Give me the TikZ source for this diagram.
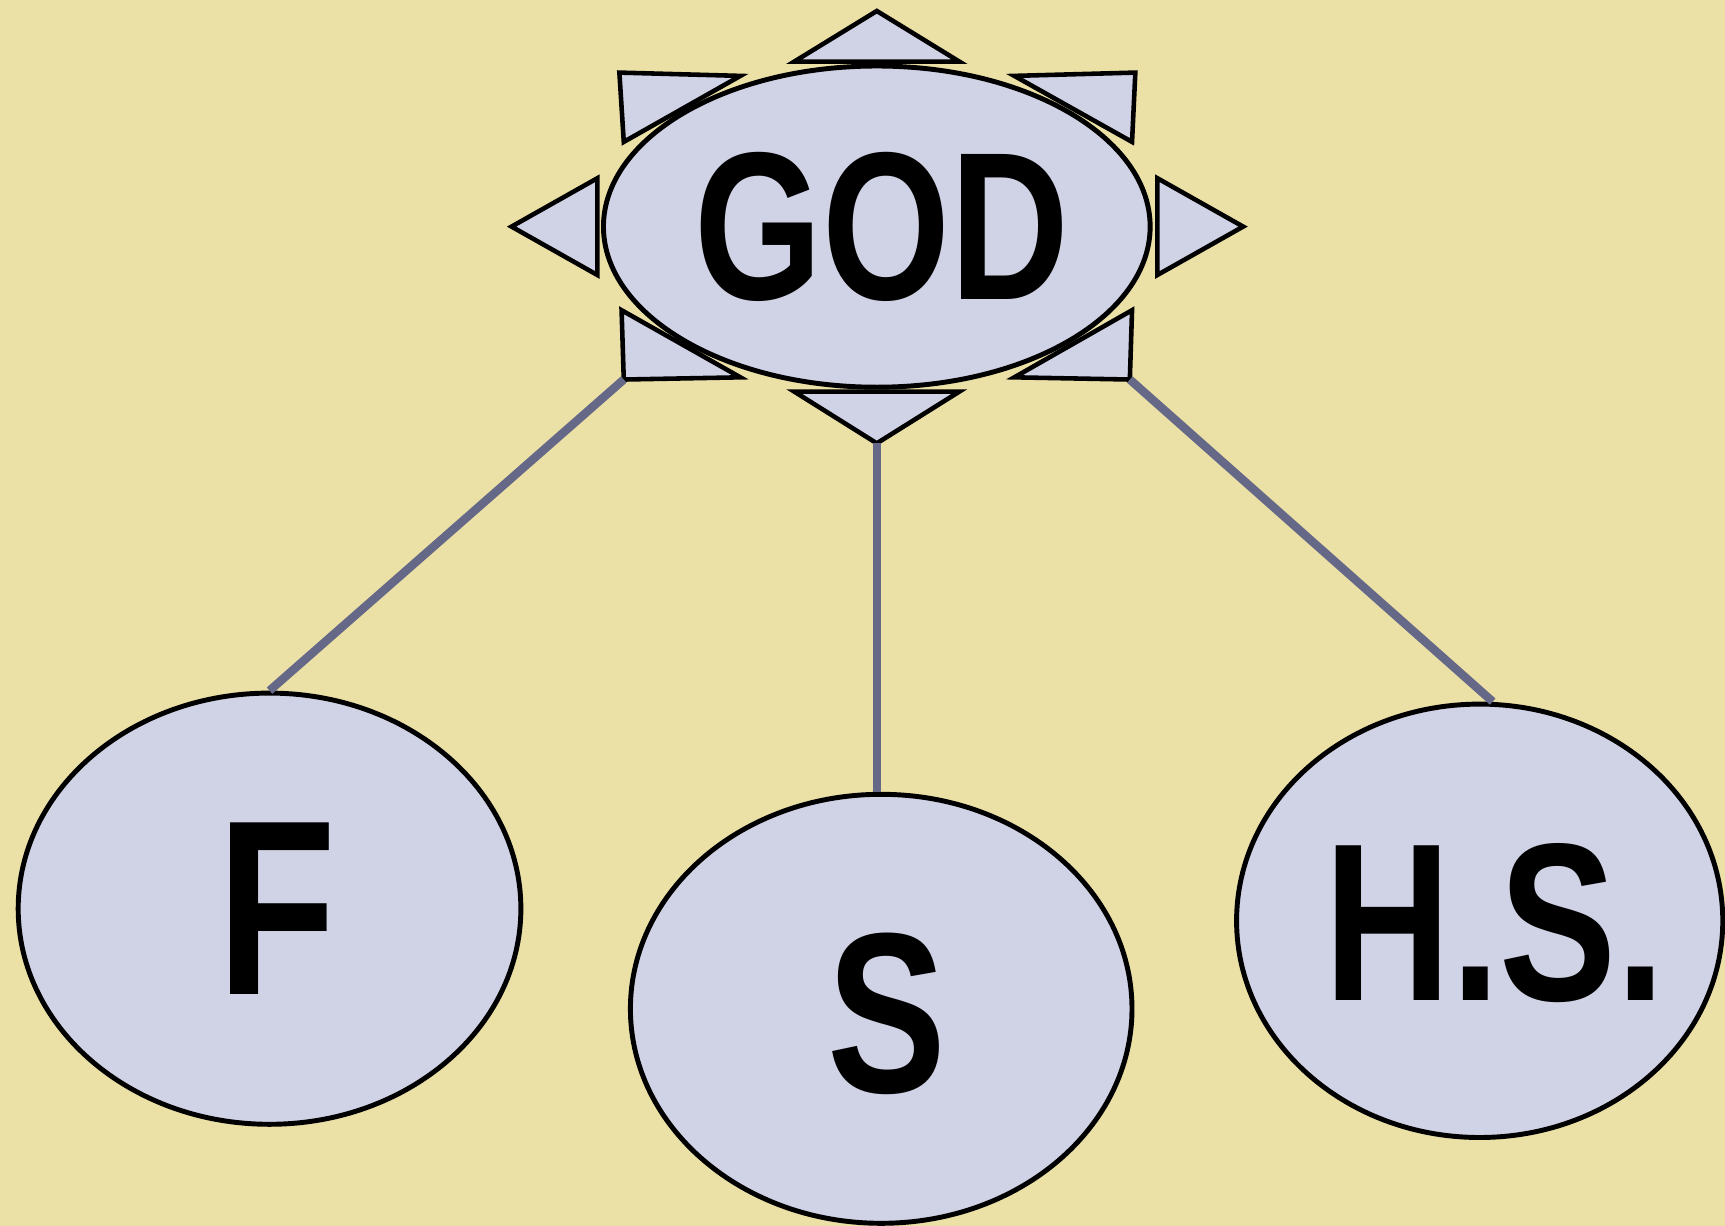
\documentclass[tikz,border=0pt]{standalone}
\usepackage{fontspec}
\newfontfamily\lbl[FakeStretch=0.78]{Liberation Sans}
\usetikzlibrary{shapes.geometric}
\definecolor{bgyellow}{HTML}{EBE1A6}
\definecolor{ovalfill}{HTML}{D0D2E6}
\definecolor{linkcol}{HTML}{666888}
\tikzset{
  oval/.style={ellipse, draw=black, line width=1.4pt, fill=ovalfill, inner sep=0pt},
  ray/.style={draw=black, line width=1.3pt, fill=ovalfill, line join=miter},
  link/.style={draw=linkcol, line width=2.4pt},
  word/.style={inner sep=0pt, font=\lbl\bfseries}
}
\begin{document}
\begin{tikzpicture}[x=0.011cm, y=-0.011cm]
\useasboundingbox (0,0) rectangle (1568,1114.4);
\fill[bgyellow] (0,0) rectangle (1568,1114.4);

% rays around GOD
\coordinate (tA) at (797,10);  \coordinate (tB) at (722,56);  \coordinate (tC) at (872,56);
\coordinate (bA) at (797,403); \coordinate (bB) at (722,356); \coordinate (bC) at (872,356);
\coordinate (lA) at (465,206); \coordinate (lB) at (543,162); \coordinate (lC) at (543,250);
\coordinate (rA) at (1130,206);\coordinate (rB) at (1052,162);\coordinate (rC) at (1052,250);
\coordinate (tlA) at (563,66); \coordinate (tlB) at (673,69); \coordinate (tlC) at (567,129);
\coordinate (trA) at (1032,66);\coordinate (trB) at (922,69); \coordinate (trC) at (1029,129);
\coordinate (blA) at (565,282);\coordinate (blB) at (567,345);\coordinate (blC) at (673,343);
\coordinate (brA) at (1029,282);\coordinate (brB) at (1027,345);\coordinate (brC) at (922,343);

\foreach \t in {t,b,l,r,tl,tr,bl,br}{
  \draw[ray] (\t A) -- (\t B) -- (\t C) -- cycle;
}

% ovals
\node[oval, minimum width=5.467cm, minimum height=3.212cm] (GOD) at (797,206) {};
\node[oval, minimum width=5.027cm, minimum height=4.312cm] (F) at (245,826) {};
\node[oval, minimum width=5.016cm, minimum height=4.290cm] (S) at (801,917) {};
\node[oval, minimum width=4.862cm, minimum height=4.334cm] (HS) at (1345,837) {};

% texts
\node[word, font=\lbl\bfseries\fontsize{60}{63}\selectfont] (tGOD) at (802,206) {GOD};
\node[word, font=\lbl\bfseries\fontsize{71}{74}\selectfont] (tF) at (252,826) {F};
\node[word, font=\lbl\bfseries\fontsize{65}{68}\selectfont] (tS) at (806,922) {S};
\node[word, font=\lbl\bfseries\fontsize{64}{67}\selectfont] (tHS) at (1359,839) {H.S.};

% connectors
\draw[link] (blB) -- (F.north);
\draw[link] (bA) -- (bA |- S.north);
\draw[link] (brB) -- ([xshift=0.13cm]HS.north);
\end{tikzpicture}
\end{document}
